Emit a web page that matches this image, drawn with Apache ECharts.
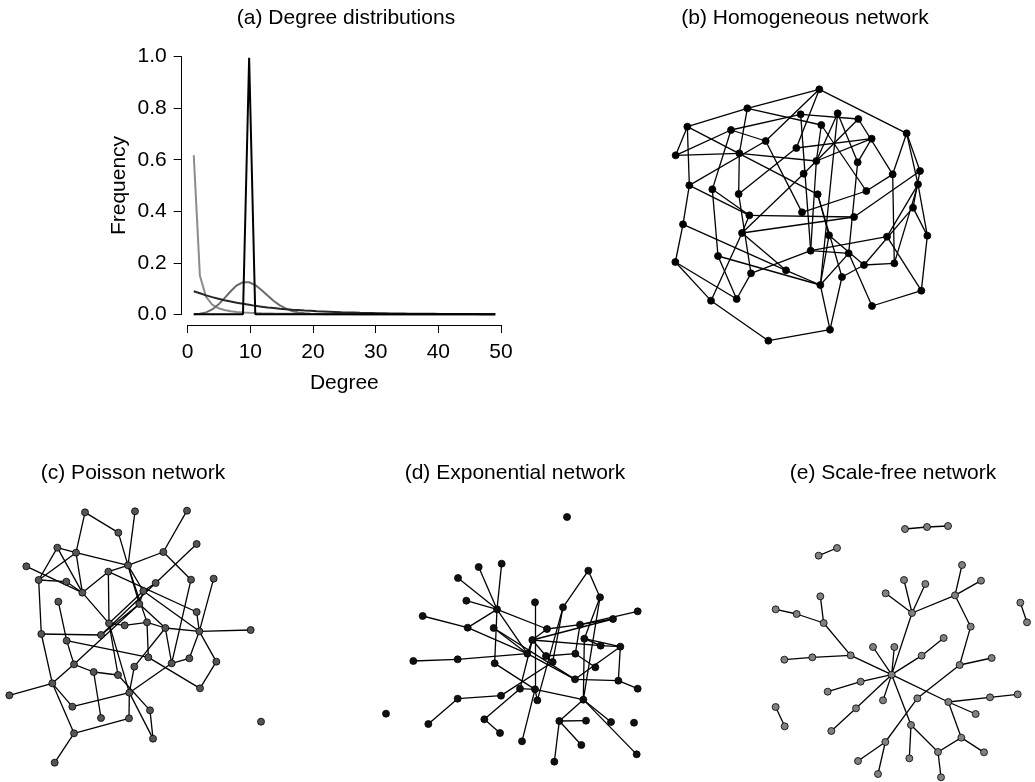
<!DOCTYPE html>
<html>
<head>
<meta charset="utf-8">
<script src="https://cdn.jsdelivr.net/npm/echarts@6/dist/echarts.min.js"></script>
<style>
html,body{margin:0;padding:0;background:#fff;}
#chart{width:1035px;height:782px;}
</style>
</head>
<body>
<div id="chart"></div>
<script>
// ---------- Panel (a): degree distributions ----------
const degrees = [1,2,3,4,5,6,7,8,9,10,11,12,13,14,15,16,17,18,19,20,21,22,23,24,25,26,27,28,29,30,31,32,33,34,35,36,37,38,39,40,41,42,43,44,45,46,47,48,49,50];
const xTicks = [0,10,20,30,40,50];
const yTicks = [0.0,0.2,0.4,0.6,0.8,1.0];
const scaleFree = [0.62,0.15,0.068,0.038,0.024,0.017,0.012,0.0095,0.0075,0.006,0.005,0.0042,0.0036,0.0031,0.0027,0.0024,0.0021,0.0019,0.0017,0.0015,0.0014,0.0013,0.0011,0.0011,0.001,0.0009,0.0008,0.0008,0.0007,0.0007,0.0006,0.0006,0.0006,0.0005,0.0005,0.0005,0.0004,0.0004,0.0004,0.0004,0.0004,0.0003,0.0003,0.0003,0.0003,0.0003,0.0003,0.0003,0.0003,0.0002];
const poisson = [0.0005,0.0023,0.0076,0.019,0.038,0.063,0.090,0.113,0.125,0.125,0.114,0.095,0.073,0.052,0.035,0.022,0.013,0.007,0.004,0.002,0.001,0.0004,0.0002,0.0001,0,0,0,0,0,0,0,0,0,0,0,0,0,0,0,0,0,0,0,0,0,0,0,0,0,0];
const exponential = [0.090,0.082,0.074,0.067,0.061,0.055,0.050,0.045,0.041,0.037,0.033,0.030,0.027,0.025,0.022,0.020,0.018,0.017,0.015,0.014,0.012,0.011,0.010,0.009,0.008,0.0075,0.0068,0.0061,0.0055,0.005,0.0045,0.0041,0.0037,0.0033,0.003,0.0027,0.0025,0.0022,0.002,0.0018,0.0016,0.0015,0.0013,0.0012,0.0011,0.001,0.0009,0.0008,0.0007,0.0007];
const homogeneous = [0,0,0,0,0,0,0,0,0,1,0,0,0,0,0,0,0,0,0,0,0,0,0,0,0,0,0,0,0,0,0,0,0,0,0,0,0,0,0,0,0,0,0,0,0,0,0,0,0,0];

// ---------- Panel titles ----------
const titles = ['(a) Degree distributions','(b) Homogeneous network','(c) Poisson network','(d) Exponential network','(e) Scale-free network'];

// ---------- Networks: node positions (layout units) and edges (1-based) ----------
const nodesB = [[478,28],[262,85],[82,140],[213,150],[422,103],[533,100],[595,117],[484,135],[740,160],[635,176],
[317,183],[409,204],[47,226],[238,220],[469,243],[593,247],[431,281],[698,283],[780,273],[88,316],
[157,328],[236,342],[473,343],[619,333],[774,313],[759,383],[268,406],[426,397],[582,411],[69,433],
[246,459],[507,466],[681,470],[802,467],[174,528],[452,512],[566,520],[612,555],[703,550],[46,546],
[273,580],[378,571],[481,615],[546,591],[784,632],[153,662],[230,657],[636,678],[510,749],[325,782]];
const edgesB = [[1,2],[1,9],[1,11],[1,12],[2,3],[2,14],[2,8],[3,13],[3,20],[3,23],[4,11],[4,21],[4,13],
[5,7],[5,36],[5,4],[6,15],[6,16],[6,43],[7,15],[7,18],[8,15],[8,24],[9,18],[9,19],[9,25],[10,12],[10,16],[10,15],
[11,28],[11,20],[12,22],[13,14],[14,15],[14,22],[15,36],[15,17],[16,37],[17,31],[18,39],[18,24],[19,29],[19,26],
[20,30],[20,27],[21,27],[21,35],[22,41],[23,32],[23,44],[24,28],[25,33],[26,34],[26,38],[27,29],[27,31],[29,31],
[30,40],[30,42],[31,46],[32,43],[32,38],[33,45],[33,36],[34,45],[34,25],[35,47],[35,43],[36,37],[36,41],[37,48],
[37,43],[38,39],[38,44],[39,25],[40,46],[40,47],[41,47],[42,43],[42,31],[43,49],[44,49],[45,48],[46,50],[49,50]];

const nodesC = [[255,127],[405,124],[561,122],[355,188],[590,222],[172,233],[228,248],[490,246],[79,289],[384,286],
[325,305],[116,330],[199,335],[467,339],[573,329],[641,326],[247,368],[430,363],[175,395],[418,402],
[590,426],[327,460],[374,466],[441,457],[496,474],[124,492],[303,495],[598,484],[752,480],[200,512],
[445,562],[222,583],[281,606],[354,615],[403,590],[515,580],[568,565],[649,575],[157,640],[600,655],
[28,676],[388,668],[217,710],[450,721],[303,744],[387,745],[783,755],[222,790],[459,806],[164,878]];
const edgesC = [[1,4],[1,7],[4,20],[2,10],[3,8],[5,14],[6,7],[6,12],[6,17],[7,10],[7,12],[7,17],[9,17],[8,10],[8,15],
[10,11],[10,18],[10,24],[11,22],[11,17],[11,21],[12,13],[12,26],[13,17],[14,18],[14,27],[15,36],[16,28],[17,22],
[18,20],[18,22],[18,28],[19,30],[20,27],[20,32],[20,25],[21,28],[22,23],[22,34],[22,42],[23,24],[24,31],[24,25],
[25,28],[28,29],[25,36],[25,35],[26,27],[26,39],[30,31],[30,32],[31,40],[32,33],[32,39],[33,34],[33,45],[34,44],
[35,42],[36,37],[36,42],[37,28],[38,40],[38,28],[39,41],[39,43],[39,48],[42,43],[42,49],[42,46],[44,49],[46,48],[48,50]];

const nodesD = [[591,201],[326,351],[395,341],[264,384],[655,362],[289,452],[690,442],[495,457],[579,472],[381,478],
[158,498],[803,484],[293,533],[371,534],[531,537],[630,524],[729,507],[487,570],[643,566],[692,587],
[751,590],[472,611],[528,618],[548,636],[616,611],[130,633],[263,628],[374,640],[676,652],[615,688],
[745,692],[450,716],[495,718],[803,716],[263,746],[393,737],[502,751],[640,749],[48,791],[343,808],
[568,813],[648,812],[723,816],[792,818],[175,822],[390,849],[456,874],[634,885],[800,913],[553,935]];
const edgesD = [[2,10],[3,10],[10,28],[4,10],[6,10],[10,13],[10,15],[10,22],[11,13],[13,22],[14,22],[14,30],
[5,9],[5,7],[7,19],[7,38],[8,33],[9,24],[9,37],[12,16],[15,16],[15,18],[16,17],[16,25],[17,18],
[18,22],[18,23],[18,32],[18,20],[19,20],[19,21],[19,38],[20,21],[21,31],[21,30],[22,27],[22,30],[23,24],[23,25],
[24,36],[25,29],[26,27],[28,33],[30,31],[31,34],[32,33],[32,40],[33,37],[33,38],[35,45],[35,36],
[38,41],[38,43],[38,49],[40,46],[41,42],[41,50],[33,47],[41,48]];

const nodesE = [[176,47],[231,24],[606,75],[663,122],[432,120],[496,132],[377,160],[181,169],[585,166],[47,208],
[110,222],[456,219],[781,188],[801,247],[191,249],[632,260],[551,294],[339,321],[403,321],[272,346],
[157,352],[73,359],[485,347],[695,354],[599,375],[395,404],[302,425],[203,455],[369,481],[472,475],
[565,486],[690,472],[773,463],[647,522],[288,505],[47,501],[74,559],[214,573],[453,555],[604,593],
[376,606],[672,637],[534,636],[448,655],[294,663],[354,702],[543,712],[435,-33],[501,-39],[564,-42]];
const edgesE = [[1,2],[3,9],[4,9],[5,12],[6,12],[7,12],[9,12],[9,16],[16,25],[25,24],[25,30],[30,41],[41,45],[41,46],
[12,26],[13,14],[8,15],[10,11],[11,15],[15,20],[20,26],[20,21],[21,22],[18,26],[19,26],[17,23],[23,26],[26,27],
[27,28],[26,29],[26,35],[35,38],[26,39],[39,44],[39,43],[43,47],[43,40],[26,31],[31,32],[32,33],[31,34],[31,40],
[40,42],[36,37],[48,49],[49,50]];

const FONT = 'Liberation Sans, Arial, Helvetica, sans-serif';
const FS = 21;

const chart = echarts.init(document.getElementById('chart'), null, {renderer:'canvas'});

// network panels: [left, top, width, height] and axis ranges
const panels = [
  {box:[660,80,290,270], x:[0,870], y:[0,810]},
  {box:[0,470,280,300], x:[0,840], y:[0,900]},
  {box:[370,450,290,320], x:[0,870], y:[0,960]},
  {box:[760,520,275,260], x:[0,825], y:[-60,720]}
];

const grids = [
  {left:181.7, top:47.4, width:325.6, height:277.2},   // 0 data grid for (a)
  {left:187.7, top:300, width:313.3, height:25},       // 1 x-axis display
  {left:181.7, top:56.7, width:300, height:257.6}      // 2 y-axis display
];
panels.forEach(p => grids.push({left:p.box[0], top:p.box[1], width:p.box[2], height:p.box[3]}));

const hiddenAxis = (gi, min, max, inverse) => ({type:'value', gridIndex:gi, min:min, max:max, show:false, inverse:!!inverse});

const xAxes = [
  hiddenAxis(0, -0.96, 51.96),
  {type:'value', gridIndex:1, min:xTicks[0], max:xTicks[xTicks.length-1], interval:10,
   name:'Degree', nameLocation:'middle', nameGap:48,
   nameTextStyle:{fontFamily:FONT, fontSize:FS, color:'#000'},
   axisLine:{show:true, lineStyle:{color:'#000', width:1}},
   axisTick:{show:true, length:8, lineStyle:{color:'#000', width:1}},
   axisLabel:{fontFamily:FONT, fontSize:FS, color:'#000', margin:17},
   splitLine:{show:false}},
  hiddenAxis(2, 0, 1)
];
const yAxes = [
  hiddenAxis(0, -0.04, 1.04),
  hiddenAxis(1, 0, 1),
  {type:'value', gridIndex:2, min:yTicks[0], max:yTicks[yTicks.length-1], interval:0.2,
   name:'Frequency', nameLocation:'middle', nameGap:52, nameRotate:90,
   nameTextStyle:{fontFamily:FONT, fontSize:FS, color:'#000'},
   axisLine:{show:true, lineStyle:{color:'#000', width:1}},
   axisTick:{show:true, length:8, lineStyle:{color:'#000', width:1}},
   axisLabel:{fontFamily:FONT, fontSize:FS, color:'#000', margin:15, formatter: v => v.toFixed(1)},
   splitLine:{show:false}}
];
panels.forEach((p, i) => {
  xAxes.push(hiddenAxis(3+i, p.x[0], p.x[1]));
  yAxes.push(hiddenAxis(3+i, p.y[0], p.y[1], true));
});

const lineSeries = (name, vals, color) => ({
  type:'line', name:name, xAxisIndex:0, yAxisIndex:0,
  data: degrees.map((d, i) => [d, vals[i]]),
  showSymbol:false, symbol:'none', silent:true,
  lineStyle:{color:color, width:2}, z:2
});

const graphSeries = (idx, nodes, edges, fill, size) => ({
  type:'graph', layout:'none', coordinateSystem:'cartesian2d',
  xAxisIndex:idx, yAxisIndex:idx,
  data: nodes.map(p => ({value:[p[0], p[1]]})),
  links: edges.map(e => ({source:e[0]-1, target:e[1]-1})),
  symbol:'circle', symbolSize:size,
  itemStyle:{color:fill, borderColor:'#000', borderWidth:0.8, opacity:1},
  lineStyle:{color:'#000', width:1.3, opacity:1, curveness:0},
  label:{show:false}, emphasis:{disabled:true}, silent:true, roam:false
});

const titlePos = [[346,18],[805,18],[133,473],[515,473],[893,473]];

chart.setOption({
  animation:false,
  backgroundColor:'#fff',
  grid: grids,
  xAxis: xAxes,
  yAxis: yAxes,
  graphic: titles.map((t, i) => ({
    type:'text', x:titlePos[i][0], y:titlePos[i][1], silent:true,
    style:{text:t, fill:'#000', font: FS + 'px ' + FONT, align:'center', verticalAlign:'middle',
           textAlign:'center', textVerticalAlign:'middle'}
  })),
  series: [
    lineSeries('Scale-free', scaleFree, '#8c8c8c'),
    lineSeries('Poisson', poisson, '#6b6b6b'),
    lineSeries('Exponential', exponential, '#262626'),
    lineSeries('Homogeneous', homogeneous, '#000000'),
    graphSeries(3, nodesB, edgesB, '#000', 7),
    graphSeries(4, nodesC, edgesC, '#555', 7),
    graphSeries(5, nodesD, edgesD, '#111', 7),
    graphSeries(6, nodesE, edgesE, '#808080', 7)
  ]
});
</script>
</body>
</html>
